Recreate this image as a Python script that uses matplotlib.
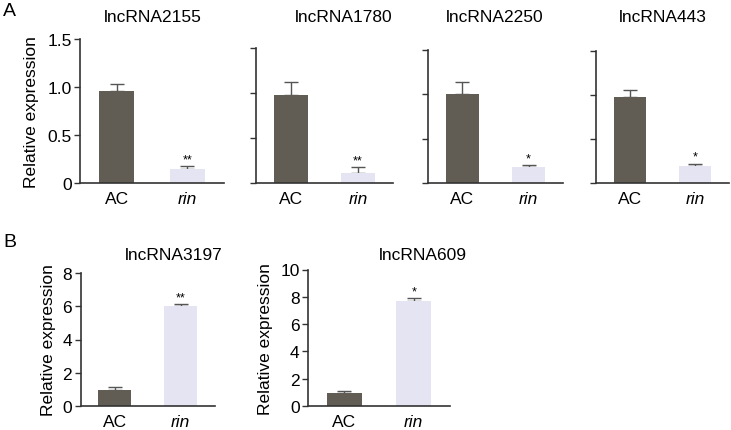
import matplotlib
matplotlib.use("Agg")
import matplotlib.pyplot as plt

plt.rcParams['font.family'] = ['Liberation Sans', 'DejaVu Sans']

# panel A data
titles_a = ["lncRNA2155", "lncRNA1780", "lncRNA2250", "lncRNA443"]
ac_a = [0.96, 0.98, 1.00, 0.97]
ac_err_a = [0.07, 0.14, 0.13, 0.08]
rin_a = [0.15, 0.11, 0.18, 0.19]
rin_err_a = [0.03, 0.07, 0.02, 0.03]
sig_a = ["**", "**", "*", "*"]

# panel B data
titles_b = ["lncRNA3197", "lncRNA609"]
ac_b = [0.98, 0.98]
ac_err_b = [0.17, 0.12]
rin_b = [6.0, 7.68]
rin_err_b = [0.13, 0.25]
sig_b = ["**", "*"]

groups = ["AC", "rin"]
yticks_a = [0, 0.5, 1.0, 1.5]
yticklabels_a = ["0", "0.5", "1.0", "1.5"]

W, H = 731, 431
AC_COL = "#615d55"
RIN_COL = "#e5e4f3"
AX_COL = "#333333"

fig = plt.figure(figsize=(W / 100, H / 100), dpi=100)


def make_ax(x0, x1, ytop, ybot):
    return fig.add_axes([x0 / W, 1 - ybot / H, (x1 - x0) / W, (ybot - ytop) / H])


def draw(ax, ac, ac_err, rin, rin_err, sig, ymax):
    vals = [ac, rin]
    errs = [ac_err, rin_err]
    ax.bar([0, 1], vals, width=0.5, color=[AC_COL, RIN_COL], zorder=2)
    ax.errorbar([0, 1], vals, yerr=[[0, 0], errs], fmt="none", ecolor="#555555",
                elinewidth=1.0, capsize=5, capthick=1.0, zorder=1)
    ax.annotate(sig, (1, rin + rin_err), xytext=(0, 0.5), textcoords="offset points",
                ha="center", va="bottom", fontsize=9)
    ax.set_xlim(-0.52, 1.52)
    ax.set_ylim(0, ymax)
    ax.set_xticks([0, 1])
    ax.set_xticklabels(groups, fontsize=12.5)
    ax.get_xticklabels()[1].set_style("italic")
    ax.tick_params(axis="x", length=0, pad=6)
    ax.tick_params(axis="y", length=4, width=1, color=AX_COL, labelsize=12.5, pad=2)
    for s in ["top", "right"]:
        ax.spines[s].set_visible(False)
    for s in ["left", "bottom"]:
        ax.spines[s].set_linewidth(1.2)
        ax.spines[s].set_color(AX_COL)
    ax.set_facecolor("none")


# panel A
a_boxes = [(80, 224, 40, 184), (256, 393, 49, 184), (428, 563, 50.5, 184), (596, 729, 51.5, 184)]
a_title_x = [153, 344, 495, 663]
for i in range(4):
    ax = make_ax(*a_boxes[i])
    draw(ax, ac_a[i], ac_err_a[i], rin_a[i], rin_err_a[i], sig_a[i], 1.5)
    ax.set_yticks(yticks_a)
    if i == 0:
        ax.set_yticklabels(yticklabels_a)
        ax.set_ylabel("Relative expression", fontsize=12.5, labelpad=6)
    else:
        ax.set_yticklabels([])
    fig.text(a_title_x[i] / W, 1 - 18 / H, titles_a[i], ha="center", va="center", fontsize=12.5)

# panel B
b_boxes = [(80.5, 215, 274, 407), (308, 450, 270.5, 407)]
b_title_x = [174, 423]
b_ymax = [8, 10]
for i in range(2):
    ax = make_ax(*b_boxes[i])
    draw(ax, ac_b[i], ac_err_b[i], rin_b[i], rin_err_b[i], sig_b[i], b_ymax[i])
    ax.set_yticks(range(0, b_ymax[i] + 1, 2))
    ax.set_ylabel("Relative expression", fontsize=12.5, labelpad=5)
    fig.text(b_title_x[i] / W, 1 - 255 / H, titles_b[i], ha="center", va="center", fontsize=12.5)

fig.text(3 / W, 1 - 12 / H, "A", ha="left", va="center", fontsize=14)
fig.text(3 / W, 1 - 243 / H, "B", ha="left", va="center", fontsize=14)

fig.savefig("out.png", dpi=100)
